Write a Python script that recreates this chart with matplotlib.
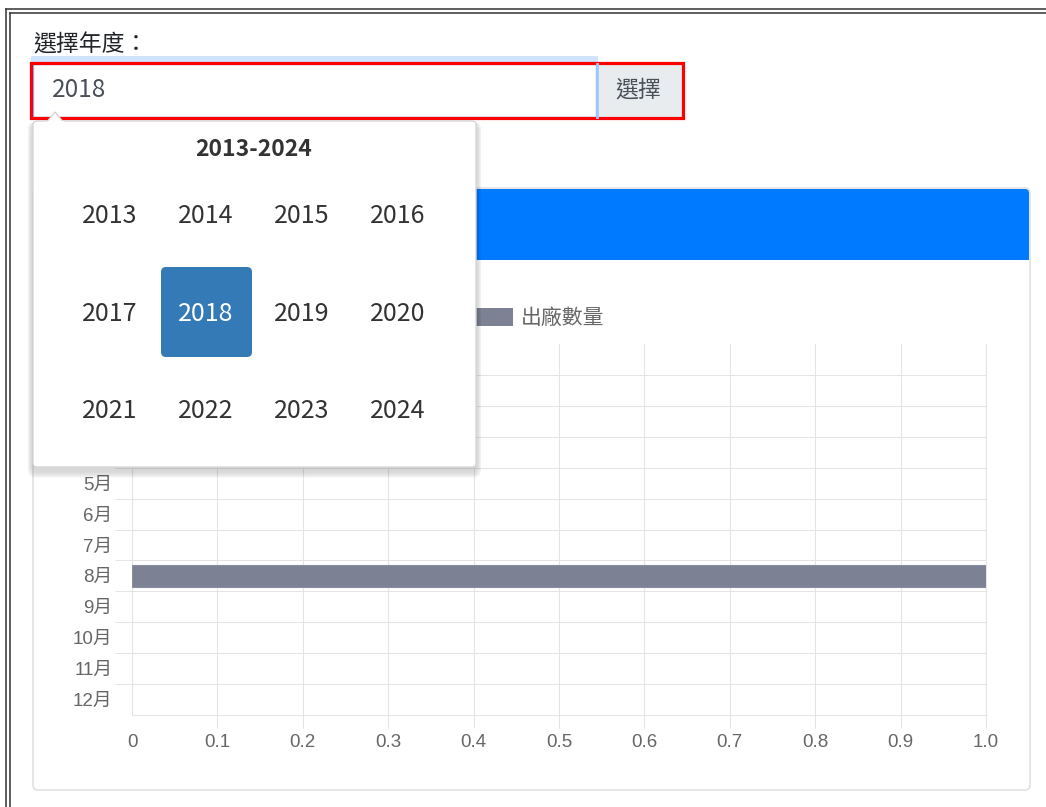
import matplotlib
matplotlib.use("Agg")
import matplotlib.pyplot as plt
from matplotlib.patches import FancyBboxPatch, Rectangle, Polygon

# data
months = ["1月", "2月", "3月", "4月", "5月", "6月", "7月", "8月", "9月", "10月", "11月", "12月"]
shipped = [0, 0, 0, 0, 0, 0, 0, 1, 0, 0, 0, 0]
x_ticks = [0, 0.1, 0.2, 0.3, 0.4, 0.5, 0.6, 0.7, 0.8, 0.9, 1.0]
x_tick_labels = ["0", "0.1", "0.2", "0.3", "0.4", "0.5", "0.6", "0.7", "0.8", "0.9", "1.0"]
years = [2013, 2014, 2015, 2016, 2017, 2018, 2019, 2020, 2021, 2022, 2023, 2024]
selected_year = 2018
series_name = "出廠數量"

W, H = 1046, 807
CJK = ["Noto Sans CJK TC", "DejaVu Sans"]
SANS = ["Liberation Sans", "Noto Sans CJK TC", "DejaVu Sans"]
BAR = "#7c8193"
GRID = "#e4e4e4"

fig = plt.figure(figsize=(W / 100, H / 100), dpi=100)
fig.patch.set_facecolor("white")


def pixel_axes(z):
    a = fig.add_axes([0, 0, 1, 1], zorder=z)
    a.set_xlim(0, W)
    a.set_ylim(H, 0)
    a.axis("off")
    a.patch.set_alpha(0)
    return a


bg = pixel_axes(0)
fg = pixel_axes(2)

# outer double frame
for off in (6, 9.5):
    bg.plot([off, off], [off + 3, H], color="#333333", lw=1.1)
    bg.plot([off, W], [off + 3, off + 3], color="#333333", lw=1.1)

bg.text(33, 45, "選擇年度：", family=CJK, fontsize=16.5, color="#212529", va="center", ha="left")

# input group
bg.add_patch(Rectangle((31, 56), 567, 6, facecolor="#cfe5ff", edgecolor="none"))
bg.add_patch(Rectangle((33, 64), 563, 53, facecolor="white", edgecolor="#80bdff", lw=1))
bg.add_patch(Rectangle((597, 64), 85, 53, facecolor="#e9ecef", edgecolor="none"))
bg.plot([596.5, 596.5], [64, 117], color="#9cc9ff", lw=2)
bg.add_patch(Rectangle((31, 63), 652, 55, facecolor="none", edgecolor="#ff0000", lw=2.3))
bg.text(52, 90, str(selected_year), family=CJK, fontsize=17.5, color="#495057", va="center", ha="left")
bg.text(638, 90, "選擇", family=CJK, fontsize=16.5, color="#495057", va="center", ha="center")

# chart card
bg.add_patch(FancyBboxPatch((33, 188), 997, 602, boxstyle="round,pad=0,rounding_size=5",
                            facecolor="white", edgecolor="#dcdcdc", lw=1))
bg.add_patch(FancyBboxPatch((34, 189), 995, 71, boxstyle="round,pad=0,rounding_size=4",
                            facecolor="#007bff", edgecolor="none"))
bg.add_patch(Rectangle((34, 240), 995, 20, facecolor="#007bff", edgecolor="none"))

# bar chart
ax = fig.add_axes([132 / W, (H - 715) / H, 854 / W, 371 / H], zorder=1)
ax.patch.set_alpha(0)
ypos = list(range(len(months)))
ax.barh(ypos, shipped, height=0.72, color=BAR, edgecolor="#8a8fa0",
        linewidth=[0.8 if v else 0 for v in shipped], label=series_name, zorder=3)
ax.set_ylim(len(months) - 0.5, -0.5)
ax.set_xlim(0, 1)
ax.set_yticks(ypos)
ax.set_yticklabels(months)
ax.set_yticks([i + 0.5 for i in range(len(months) - 1)], minor=True)
ax.set_xticks(x_ticks)
ax.set_xticklabels(x_tick_labels)
ax.tick_params(axis="y", which="major", length=0, pad=14, labelsize=13.5, labelcolor="#666666")
ax.tick_params(axis="y", which="minor", length=12, width=0.75, color=GRID, direction="out")
ax.tick_params(axis="x", which="major", length=9.5, width=0.75, color=GRID, pad=4,
               labelsize=13.5, labelcolor="#666666")
for lab in ax.get_xticklabels() + ax.get_yticklabels():
    lab.set_family(SANS)
ax.xaxis.get_major_ticks()[0].tick1line.set_visible(False)
ax.grid(axis="x", which="major", color=GRID, lw=0.75, zorder=0)
ax.grid(axis="y", which="minor", color=GRID, lw=0.75, zorder=0)
ax.set_axisbelow(True)
ax.spines["top"].set_visible(False)
for s in ("left", "right", "bottom"):
    ax.spines[s].set_color(GRID)
    ax.spines[s].set_linewidth(0.75)

ax.legend(loc="center left", bbox_to_anchor=(475, 318), bbox_transform=bg.transData,
          frameon=False, borderpad=0, borderaxespad=0, handlelength=1.8, handleheight=1.0,
          handletextpad=0.42, prop={"family": CJK, "size": 15}, labelcolor="#666666")

# year picker dropdown (drawn over the chart)
drop_x, drop_y, drop_w, drop_h = 33, 121, 443, 346
for i, a in enumerate([0.05, 0.04, 0.03, 0.02, 0.012]):
    g = (5 - i) * 2
    fg.add_patch(FancyBboxPatch((drop_x - g / 2, drop_y - g / 4 + 3), drop_w + g, drop_h + g,
                                boxstyle="round,pad=0,rounding_size=8",
                                facecolor="black", alpha=a, edgecolor="none"))
fg.add_patch(FancyBboxPatch((drop_x, drop_y), drop_w, drop_h, boxstyle="round,pad=0,rounding_size=4",
                            facecolor="white", edgecolor="#d6d6d6", lw=1))
fg.add_patch(Polygon([[47, 121.5], [55, 112], [63, 121.5]], closed=True,
                     facecolor="white", edgecolor="#cccccc", lw=0.8))
fg.plot([47.5, 62.5], [121.5, 121.5], color="white", lw=1.5)
fg.text(254, 149, f"{years[0]}-{years[-1]}", family=CJK, fontsize=16.5, fontweight="bold",
        color="#333333", ha="center", va="center")

col_x = [110, 206, 302, 398]
row_y = [216, 314, 411]
for k, yr in enumerate(years):
    cx, cy = col_x[k % 4], row_y[k // 4]
    color = "#333333"
    if yr == selected_year:
        fg.add_patch(FancyBboxPatch((161, 267), 91, 90, boxstyle="round,pad=0,rounding_size=5",
                                    facecolor="#337ab7", edgecolor="none"))
        color = "white"
    fg.text(cx, cy, str(yr), family=CJK, fontsize=18, color=color, ha="center", va="center")

# month labels lying under the open dropdown are covered there, so do not draw them
fig.canvas.draw()
renderer = fig.canvas.get_renderer()
drop_bottom = H - (drop_y + drop_h)
for lab in ax.get_yticklabels():
    if lab.get_window_extent(renderer).y0 > drop_bottom:
        lab.set_visible(False)

fig.savefig("out.png", dpi=100, facecolor="white")
